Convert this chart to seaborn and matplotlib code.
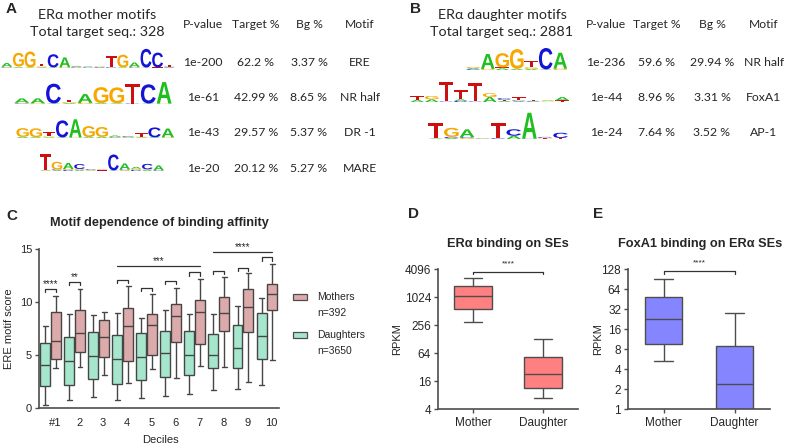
import numpy as np
import pandas as pd
import seaborn as sns
import matplotlib.pyplot as plt
from matplotlib.textpath import TextPath
from matplotlib.font_manager import FontProperties
from matplotlib.patches import PathPatch, Rectangle
from matplotlib.transforms import Affine2D, ScaledTranslation

sns.set_style('ticks')
plt.rcParams['font.family'] = ['Liberation Sans', 'DejaVu Sans']

# ---------------- panel A / B : motif tables ----------------
mother_pvals = ['1e-200', '1e-61', '1e-43', '1e-20']
mother_target = ['62.2 %', '42.99 %', '29.57 %', '20.12 %']
mother_bg = ['3.37 %', '8.65 %', '5.37 %', '5.27 %']
mother_names = ['ERE', 'NR half', 'DR -1', 'MARE']

daughter_pvals = ['1e-236', '1e-44', '1e-24']
daughter_target = ['59.6 %', '8.96 %', '7.64 %']
daughter_bg = ['29.94 %', '3.31 %', '3.52 %']
daughter_names = ['NR half', 'FoxA1', 'AP-1']

headers = ['P-value', 'Target %', 'Bg %', 'Motif']

# logos: one entry per position, letters bottom->top with their heights (bits)
logo_ere = [
    ('CGA', [0.05, 0.06, 0.35]), ('ATG', [0.08, 0.05, 1.25]), ('AG', [0.05, 1.45]),
    ('AGT', [0.06, 0.08, 0.25]), ('AC', [0.05, 1.2]), ('GA', [0.06, 0.9]),
    ('GCA', [0.05, 0.06, 0.08]), ('TCA', [0.04, 0.05, 0.06]), ('ACG', [0.04, 0.05, 0.06]),
    ('CT', [0.06, 1.0]), ('AG', [0.06, 1.15]), ('GCA', [0.05, 0.05, 0.4]),
    ('AC', [0.04, 1.7]), ('TC', [0.05, 1.35]), ('ACT', [0.06, 0.06, 0.18]),
]
logo_nrhalf_m = [
    ('CGA', [0.05, 0.06, 0.4]), ('GA', [0.06, 0.45]), ('AC', [0.05, 1.8]),
    ('AGT', [0.08, 0.08, 0.22]), ('GA', [0.1, 0.8]), ('AG', [0.08, 1.45]),
    ('AG', [0.06, 1.45]), ('CT', [0.04, 1.8]), ('AC', [0.04, 1.75]), ('GA', [0.04, 1.95]),
]
logo_dr1 = [
    ('AG', [0.1, 0.8]), ('AG', [0.08, 0.8]), ('AGT', [0.06, 0.08, 0.4]),
    ('AC', [0.05, 1.55]), ('GA', [0.05, 1.65]), ('AG', [0.08, 1.0]),
    ('AG', [0.1, 0.9]), ('CGA', [0.05, 0.06, 0.12]), ('GAC', [0.05, 0.06, 0.06]),
    ('AGT', [0.06, 0.06, 0.3]), ('AC', [0.06, 0.9]), ('GA', [0.06, 0.8]),
]
logo_mare = [
    ('AGT', [0.05, 0.05, 1.45]), ('ACG', [0.08, 0.06, 0.7]), ('CGA', [0.1, 0.08, 0.55]),
    ('AGC', [0.1, 0.08, 0.45]), ('AGC', [0.05, 0.06, 0.06]), ('TCG', [0.05, 0.05, 0.06]),
    ('AC', [0.05, 1.45]), ('GCA', [0.08, 0.06, 0.55]), ('CGA', [0.1, 0.12, 0.15]),
    ('AGC', [0.1, 0.05, 0.5]), ('CA', [0.06, 0.45]),
]
logo_nrhalf_d = [
    ('CAG', [0.08, 0.1, 0.1]), ('GA', [0.1, 1.35]), ('ATG', [0.15, 0.08, 1.3]),
    ('AG', [0.1, 1.8]), ('AGT', [0.1, 0.15, 0.55]), ('AC', [0.05, 1.95]), ('GA', [0.12, 1.45]),
]
logo_foxa1 = [
    ('AT', [0.2, 0.35]), ('AG', [0.25, 0.3]), ('CT', [0.05, 1.8]),
    ('CAT', [0.1, 0.15, 0.8]), ('CT', [0.05, 1.7]), ('AG', [0.45, 0.35]),
    ('ATC', [0.1, 0.1, 0.15]), ('ACT', [0.08, 0.06, 0.3]), ('ACT', [0.05, 0.05, 0.06]),
    ('GTA', [0.05, 0.05, 0.06]), ('TA', [0.15, 0.3]),
]
logo_ap1 = [
    ('AT', [0.05, 1.15]), ('ACG', [0.08, 0.08, 0.7]), ('GCA', [0.08, 0.06, 0.6]),
    ('ACGT', [0.02, 0.02, 0.02, 0.02]), ('CT', [0.06, 1.15]), ('AC', [0.25, 0.5]),
    ('CA', [0.02, 2.0]), ('TGC', [0.05, 0.05, 0.06]), ('TC', [0.08, 0.4]),
]

# ---------------- panel C : box summaries (low whisker, Q1, median, Q3, high whisker)
deciles = ['#1', '2', '3', '4', '5', '6', '7', '8', '9', '10']
daughters_box = [
    [0.3, 2.1, 4.1, 6.1, 7.7], [0.8, 2.2, 4.4, 6.7, 8.9], [1.0, 2.7, 4.9, 7.2, 8.8],
    [0.8, 2.3, 4.6, 6.9, 9.0], [0.9, 2.6, 4.8, 7.1, 8.5], [1.1, 2.9, 5.2, 7.3, 9.2],
    [1.3, 3.1, 5.0, 7.3, 8.9], [1.7, 3.8, 5.0, 7.0, 8.9], [1.8, 3.8, 5.7, 7.8, 9.6],
    [2.2, 4.6, 6.8, 9.0, 10.4],
]
mothers_box = [
    [3.8, 4.6, 6.3, 9.1, 10.6], [3.9, 5.3, 7.1, 9.2, 11.2], [3.1, 4.8, 6.7, 8.3, 9.1],
    [2.4, 4.4, 7.7, 9.4, 11.5], [3.7, 5.0, 7.8, 8.9, 10.8], [2.8, 6.2, 8.7, 9.8, 11.3],
    [4.0, 6.0, 9.1, 10.2, 12.2], [3.9, 7.3, 9.0, 10.5, 12.4], [2.5, 7.2, 9.5, 11.2, 12.7],
    [4.5, 9.2, 10.8, 11.7, 13.6],
]
pair_marks = [(0, 11.25, '****'), (1, 11.9, '**'), (3, 12.05, ''), (4, 11.3, ''),
              (5, 12.0, ''), (6, 12.8, ''), (7, 12.9, ''), (8, 13.2, ''), (9, 14.2, '')]
span_marks = [(3, 6, 13.4, '***'), (7, 9, 14.7, '****')]

# ---------------- panels D / E
cells = ['Mother', 'Daughter']
era_box = [[297, 565, 1075, 1770, 2630], [7.0, 11.2, 22.3, 51.6, 126]]
foxa1_box = [[5.3, 9.5, 22.4, 49, 90.5], [0.3, 0.6, 2.4, 8.9, 27.5]]

# ---------------------------------------------------------------
fig = plt.figure(figsize=(7.88, 4.44), dpi=100)
W, H = 788, 444
ax0 = fig.add_axes([0, 0, 1, 1])
ax0.set_xlim(0, W)
ax0.set_ylim(H, 0)
ax0.axis('off')

tab_font = ['Lato', 'DejaVu Sans']
logo_font = FontProperties(family='Liberation Sans', weight='bold')
nt_color = {'A': '#1fbf1f', 'C': '#1414d8', 'G': '#f7a800', 'T': '#cc1010'}
glyphs = {}


def draw_logo(ax, columns, x0, col_w, base_y, px_bit):
    for i, (letters, heights) in enumerate(columns):
        y = base_y
        for ch, h in zip(letters, heights):
            hp = h * px_bit
            if ch not in glyphs:
                glyphs[ch] = TextPath((0, 0), ch, size=1, prop=logo_font)
            tp = glyphs[ch]
            bb = tp.get_extents()
            tr = (Affine2D().translate(-bb.x0, -bb.y0)
                  .scale(col_w * 0.94 / bb.width, -hp / bb.height)
                  .translate(x0 + i * col_w + col_w * 0.03, y))
            ax.add_patch(PathPatch(tr.transform_path(tp), fc=nt_color[ch], ec='none', lw=0))
            y -= hp


# panel letters
for lab, (x, y) in zip('ABCDE', [(11, 9), (416, 9), (12, 216), (414, 214), (598, 214)]):
    ax0.text(x, y, lab, fontsize=11, fontweight='bold', ha='center', va='center')

# table A
ax0.text(97, 15, 'ERα mother motifs', fontsize=10.3, ha='center', va='center', family=tab_font)
ax0.text(97, 32, 'Total target seq.: 328', fontsize=10.3, ha='center', va='center', family=tab_font)
colsA = [203, 256, 309, 360]
for cx, hd in zip(colsA, headers):
    ax0.text(cx, 25, hd, fontsize=8.7, ha='center', va='center', family=tab_font)
rowsA = [62, 97, 132, 168]
for ry, vals in zip(rowsA, zip(mother_pvals, mother_target, mother_bg, mother_names)):
    for cx, v in zip(colsA, vals):
        ax0.text(cx, ry, v, fontsize=8.8, ha='center', va='center', family=tab_font)
draw_logo(ax0, logo_ere, 1, 11.6, 68, 11)
draw_logo(ax0, logo_nrhalf_m, 14, 15.8, 104, 11)
draw_logo(ax0, logo_dr1, 16, 13.2, 138, 11)
draw_logo(ax0, logo_mare, 40, 11.3, 171, 11)

# table B
ax0.text(502, 15, 'ERα daughter motifs', fontsize=10.3, ha='center', va='center', family=tab_font)
ax0.text(502, 32, 'Total target seq.: 2881', fontsize=10.3, ha='center', va='center', family=tab_font)
colsB = [606, 657, 712, 764]
for cx, hd in zip(colsB, headers):
    ax0.text(cx, 25, hd, fontsize=8.7, ha='center', va='center', family=tab_font)
rowsB = [63, 97, 132]
for ry, vals in zip(rowsB, zip(daughter_pvals, daughter_target, daughter_bg, daughter_names)):
    for cx, v in zip(colsB, vals):
        ax0.text(cx, ry, v, fontsize=8.8, ha='center', va='center', family=tab_font)
draw_logo(ax0, logo_nrhalf_d, 466, 14.5, 70, 11)
draw_logo(ax0, logo_foxa1, 410, 14.5, 102, 11)
draw_logo(ax0, logo_ap1, 428, 15.6, 139, 13)

# ---------------- panel C
axC = fig.add_axes([39 / W, 1 - 408 / H, 240 / W, 159 / H])
axC.set_facecolor('none')
recs = []
for d, dv, mv in zip(deciles, daughters_box, mothers_box):
    recs += [(d, 'Daughters', v) for v in dv]
    recs += [(d, 'Mothers', v) for v in mv]
dfC = pd.DataFrame(recs, columns=['decile', 'group', 'score'])
pal = {'Daughters': '#a6e6cd', 'Mothers': '#dcaaaa'}
sns.boxplot(data=dfC, x='decile', y='score', hue='group', order=deciles,
            hue_order=['Daughters', 'Mothers'], palette=pal, saturation=1,
            whis=(0, 100), width=0.9, gap=0.08, linewidth=1.0, linecolor='#464646',
            legend=False, ax=axC)
axC.set_xlim(-0.48, 9.5)
axC.set_ylim(0, 15)
axC.set_yticks([0, 5, 10, 15])
axC.set_xlabel('Deciles', fontsize=8)
axC.set_ylabel('ERE motif score', fontsize=8)
axC.xaxis.set_label_coords(0.504, -0.17)
axC.yaxis.set_label_coords(-0.104, 0.5)
axC.tick_params(axis='x', length=0, pad=7, labelsize=8)
axC.tick_params(axis='y', length=3, width=1, pad=2, labelsize=8, color='#4d4d4d')
for lab in axC.get_xticklabels():
    lab.set_transform(lab.get_transform() + ScaledTranslation(4.5 / 100, 0, fig.dpi_scale_trans))
off = 0.225
for gi, y, txt in pair_marks:
    axC.plot([gi - off, gi - off, gi + off, gi + off], [y - 0.3, y, y, y - 0.3],
             color='#333333', lw=0.9, clip_on=False)
    if txt:
        axC.text(gi, y + 0.45, txt, fontsize=7, ha='center', va='center')
for g0, g1, y, txt in span_marks:
    axC.plot([g0 - off, g1 + off], [y, y], color='#333333', lw=0.9, clip_on=False)
    axC.text((g0 + g1) / 2, y + 0.45, txt, fontsize=7, ha='center', va='center')
ax0.text(159, 223, 'Motif dependence of binding affinity', fontsize=9.2,
         fontweight='bold', ha='center', va='center')

# legend of C
for yc, yn, key, n in [(297, 313, 'Mothers', 'n=392'), (335, 351, 'Daughters', 'n=3650')]:
    ax0.add_patch(Rectangle((293, yc - 3), 14, 6, fc=pal[key], ec='#4d4d4d', lw=0.9))
    ax0.text(317, yc, key, fontsize=7.5, ha='left', va='center')
    ax0.text(317, yn, n, fontsize=7.5, ha='left', va='center')


# ---------------- panels D and E
def rpkm_panel(rect, box, fill, ylim, ticks, title, title_x, mark_y, mark_txt_y, lab_x):
    ax = fig.add_axes(rect)
    ax.set_facecolor('none')
    recs = [(c, v) for c, b in zip(cells, box) for v in b]
    df = pd.DataFrame(recs, columns=['cell', 'rpkm'])
    sns.boxplot(data=df, x='cell', y='rpkm', order=cells, color=fill, saturation=1,
                log_scale=2, whis=(0, 100), width=0.53, linewidth=1.0,
                linecolor='#4d4d4d', ax=ax)
    ax.set_ylim(*ylim)
    ax.set_xlim(-0.5, 1.5)
    ax.set_yticks(ticks)
    ax.set_yticklabels([str(t) for t in ticks])
    ax.minorticks_off()
    ax.set_xlabel('')
    ax.set_ylabel('RPKM', fontsize=8)
    ax.yaxis.set_label_coords(lab_x, 0.5)
    ax.tick_params(axis='both', length=3, width=1, pad=2, labelsize=8.5, color='#4d4d4d')
    ax.tick_params(axis='x', pad=3)
    ax.plot([0, 0, 1, 1], [mark_y * 0.9, mark_y, mark_y, mark_y * 0.9],
            color='#333333', lw=0.9, clip_on=False)
    ax.text(0.5, mark_txt_y, '****', fontsize=6, ha='center', va='center', clip_on=False)
    ax0.text(title_x, 244, title, fontsize=9.2, fontweight='bold', ha='center', va='center')
    return ax


axD = rpkm_panel([438 / W, 1 - 409 / H, 140 / W, 140 / H], era_box, '#ff8080',
                 (4, 4096), [4, 16, 64, 256, 1024, 4096], 'ERα binding on SEs', 508,
                 3540, 5280, -0.257)
axE = rpkm_panel([628 / W, 1 - 409 / H, 142 / W, 140 / H], foxa1_box, '#8585ff',
                 (1, 128), [1, 2, 4, 8, 16, 32, 64, 128], 'FoxA1 binding on ERα SEs', 700,
                 119, 157, -0.176)

for ax in (axC, axD, axE):
    sns.despine(ax=ax)
    for sp in ('left', 'bottom'):
        ax.spines[sp].set_color('#4d4d4d')
        ax.spines[sp].set_linewidth(1.2)

fig.savefig('out.png', dpi=100)
